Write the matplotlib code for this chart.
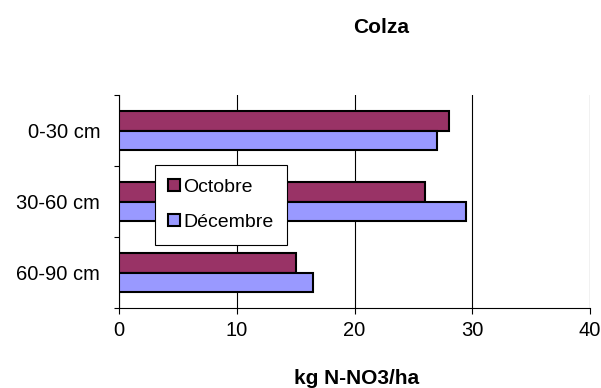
import numpy as np
import matplotlib
matplotlib.use("Agg")
import matplotlib.pyplot as plt

plt.rcParams['font.family'] = ['Liberation Sans', 'DejaVu Sans']

categories = ['0-30 cm', '30-60 cm', '60-90 cm']
octobre = [28, 26, 15]
decembre = [27, 29.5, 16.5]
xticks = [0, 10, 20, 30, 40]

fig = plt.figure(figsize=(6.01, 3.88), dpi=100)
ax = fig.add_axes([0.198, 0.206, 0.784, 0.549])

y = np.arange(len(categories))
h = 0.28
ax.barh(y - h/2, octobre, height=h, color='#993366', edgecolor='black', linewidth=1.5, label='Octobre', zorder=3)
ax.barh(y + h/2, decembre, height=h, color='#9999FF', edgecolor='black', linewidth=1.5, label='Décembre', zorder=3)

ax.set_xlim(0, 40)
ax.set_ylim(2.5, -0.5)
ax.set_xticks(xticks)
ax.set_yticks(y)
ax.set_yticklabels(categories)
ax.set_yticks([-0.5, 0.5, 1.5, 2.5], minor=True)
ax.tick_params(axis='y', which='major', length=0, pad=13.5, labelsize=14.5)
ax.tick_params(axis='y', which='minor', length=3.6, width=0.8, direction='out')
ax.tick_params(axis='x', length=4.3, width=0.8, labelsize=14.5, pad=5)
ax.xaxis.grid(True, color='black', linewidth=0.8, zorder=0)
ax.set_axisbelow(True)
for s in ['top', 'right']:
    ax.spines[s].set_visible(False)
ax.spines['left'].set_linewidth(0.8)
ax.spines['bottom'].set_linewidth(0.8)

leg = ax.legend(loc='upper left', bbox_to_anchor=(0.076, 0.671), fancybox=False,
                edgecolor='black', framealpha=1, fontsize=14, labelspacing=0.95,
                handlelength=0.57, handleheight=0.57, handletextpad=0.2,
                borderpad=0.7, borderaxespad=0)
leg.get_frame().set_linewidth(0.8)

fig.text(0.634, 0.928, 'Colza', ha='center', va='center', fontsize=15, fontweight='bold')
fig.text(0.594, 0.01, 'kg N-NO3/ha', ha='center', va='baseline', fontsize=15, fontweight='bold')

fig.savefig('out.png', dpi=100)
